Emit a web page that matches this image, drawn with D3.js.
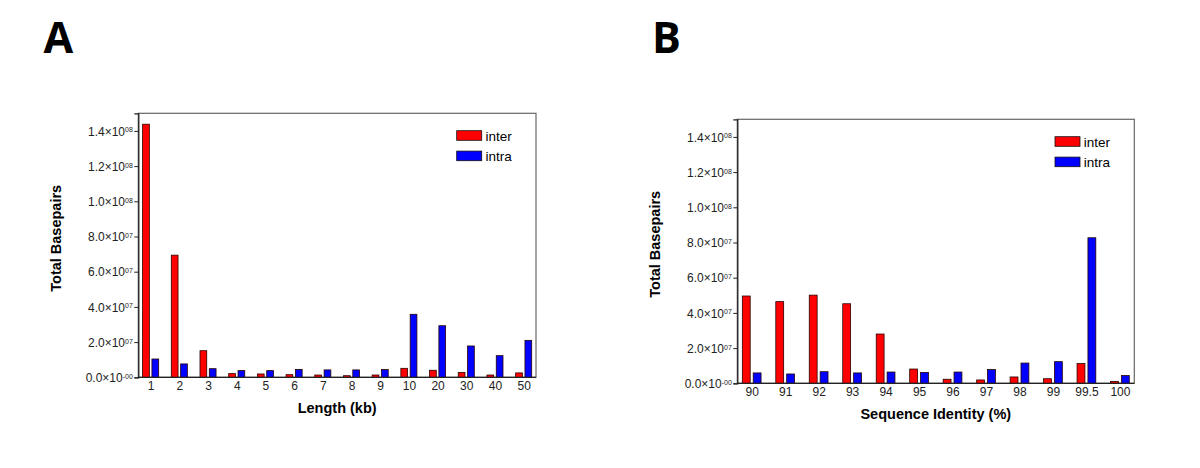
<!DOCTYPE html>
<html>
<head>
<meta charset="utf-8">
<script src="https://cdn.jsdelivr.net/npm/d3@7"></script>
<style>
  html, body { margin: 0; padding: 0; background: #fff; }
  svg text { font-family: "Liberation Sans", Arial, sans-serif; }
</style>
</head>
<body>
<svg id="chart" width="1200" height="468"></svg>
<script>
// ---- data ----
const seriesNames = ["inter", "intra"];
const seriesColors = ["#ff0000", "#0000ff"];

const lengthCategories = ["1","2","3","4","5","6","7","8","9","10","20","30","40","50"];
const lengthInter = [1.438e8, 6.94e7, 1.51e7, 2.1e6, 1.9e6, 1.5e6, 1.3e6, 0.9e6, 1.3e6, 5.1e6, 4.0e6, 2.8e6, 1.3e6, 2.5e6];
const lengthIntra = [1.04e7, 7.6e6, 4.9e6, 3.8e6, 3.8e6, 4.5e6, 4.2e6, 4.2e6, 4.4e6, 3.58e7, 2.93e7, 1.78e7, 1.23e7, 2.1e7];

const identityCategories = ["90","91","92","93","94","95","96","97","98","99","99.5","100"];
const identityInter = [4.96e7, 4.64e7, 5.01e7, 4.52e7, 2.8e7, 8.1e6, 2.3e6, 1.9e6, 3.6e6, 2.6e6, 1.12e7, 1.1e6];
const identityIntra = [5.9e6, 5.3e6, 6.6e6, 5.9e6, 6.4e6, 6.2e6, 6.4e6, 7.8e6, 1.15e7, 1.23e7, 8.27e7, 4.4e6];

const yTicks = [0, 2e7, 4e7, 6e7, 8e7, 1e8, 1.2e8, 1.4e8];
const yMax = 1.5e8;

const svg = d3.select("#chart");

function sciParts(v) {
  if (v === 0) return ["0.0×10", "-00"];
  const e = Math.floor(Math.log10(v));
  const m = (v / Math.pow(10, e)).toFixed(1);
  return [m + "×10", String(e).padStart(2, "0")];
}

function drawPanel(opt) {
  const { left, top, right, bottom, categories, inter, intra, xTitle, letter, letterX } = opt;
  const g = svg.append("g");

  const x = d3.scalePoint().domain(categories).range([left, right]).padding(0.43);
  const y = d3.scaleLinear().domain([0, yMax]).range([bottom, top]);
  const step = x.step();
  const bw = 0.235 * step;
  const gap = 0.09 * step;

  // frame
  g.append("rect")
    .attr("x", left).attr("y", top)
    .attr("width", right - left).attr("height", bottom - top)
    .attr("fill", "none").attr("stroke", "#666").attr("stroke-width", 1.2);

  // bars
  const rows = categories.map((c, i) => ({ c, vals: [inter[i], intra[i]] }));
  rows.forEach(r => {
    r.vals.forEach((v, k) => {
      const cx = x(r.c);
      const bx = k === 0 ? cx - gap / 2 - bw : cx + gap / 2;
      g.append("rect")
        .attr("x", bx).attr("y", y(v))
        .attr("width", bw).attr("height", y(0) - y(v))
        .attr("fill", seriesColors[k])
        .attr("stroke", "#2a0000").attr("stroke-width", 0.8);
    });
  });

  // y axis
  const yAxis = d3.axisLeft(y).tickValues(yTicks).tickSize(4).tickFormat("");
  const ya = g.append("g").attr("transform", `translate(${left},0)`).call(yAxis);
  ya.select(".domain").attr("stroke", "#222").attr("stroke-width", 1.3);
  ya.selectAll(".tick line").attr("stroke", "#222");
  ya.selectAll(".tick").each(function(d) {
    const parts = sciParts(d);
    const t = d3.select(this).append("text")
      .attr("x", -5.5).attr("y", 0).attr("dy", "0.35em")
      .attr("text-anchor", "end").attr("fill", "#222")
      .style("font-size", "12px");
    t.append("tspan").text(parts[0]);
    t.append("tspan").text(parts[1]).attr("dy", "-0.45em").style("font-size", "7px");
  });

  // x axis
  const xAxis = d3.axisBottom(x).tickSize(0).tickPadding(4);
  const xa = g.append("g").attr("transform", `translate(0,${bottom})`).call(xAxis);
  xa.select(".domain").attr("d", `M${left},0H${right}`).attr("stroke", "#222").attr("stroke-width", 1.3);
  xa.selectAll(".tick text")
    .attr("y", 13).attr("dy", 0)
    .attr("fill", "#222")
    .style("font-size", "12px")
    .style("font-family", "'Liberation Sans', Arial, sans-serif");

  // titles
  g.append("text")
    .attr("x", (left + right) / 2).attr("y", bottom + 36)
    .attr("text-anchor", "middle")
    .style("font-size", "14.5px").style("font-weight", "bold")
    .text(xTitle);
  g.append("text")
    .attr("transform", `translate(${left - 82.5},${top + 125}) rotate(-90)`)
    .attr("text-anchor", "middle").attr("dominant-baseline", "central")
    .style("font-size", "14.5px").style("font-weight", "bold")
    .text("Total Basepairs");

  // legend
  seriesNames.forEach((name, k) => {
    const ly = top + 17.4 + k * 20.4;
    g.append("rect")
      .attr("x", right - 79.3).attr("y", ly)
      .attr("width", 25).attr("height", 9.6)
      .attr("fill", seriesColors[k]).attr("stroke", "#111").attr("stroke-width", 0.8);
    g.append("text")
      .attr("x", right - 50.5).attr("y", ly + 10)
      .style("font-size", "13.5px")
      .text(name);
  });

  // panel letter
  svg.append("text")
    .attr("x", letterX).attr("y", 53.3)
    .style("font-family", "'Open Sans', sans-serif")
    .style("font-size", "43px").style("font-weight", "bold")
    .text(letter);
}

drawPanel({
  left: 138.3, top: 113.3, right: 536, bottom: 377.3,
  categories: lengthCategories, inter: lengthInter, intra: lengthIntra,
  xTitle: "Length (kb)", letter: "A", letterX: 43.5
});

drawPanel({
  left: 737.3, top: 119.3, right: 1134.3, bottom: 383.3,
  categories: identityCategories, inter: identityInter, intra: identityIntra,
  xTitle: "Sequence Identity (%)", letter: "B", letterX: 652
});
</script>
</body>
</html>
